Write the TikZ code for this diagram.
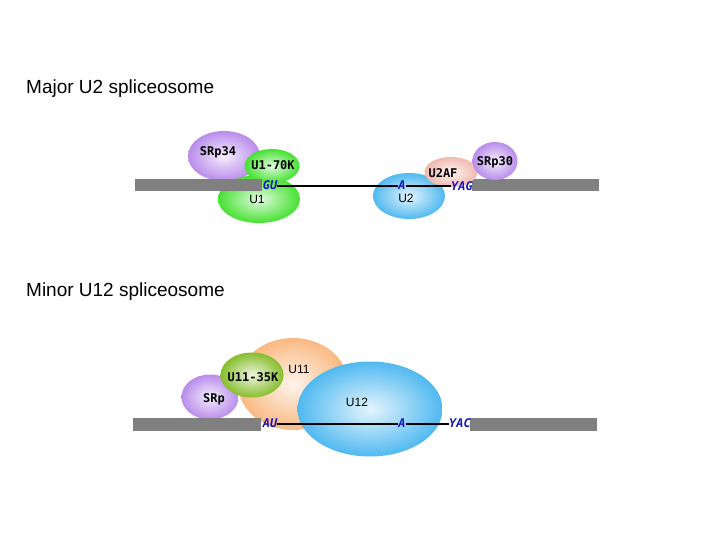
\documentclass[tikz,border=0pt]{standalone}
\usepackage{fontspec}
\setmainfont{Liberation Sans}
\newfontfamily\monof{DejaVu Sans Mono}
\usetikzlibrary{shapes.geometric}
\definecolor{purp}{RGB}{185,140,235}
\definecolor{grn}{RGB}{70,225,50}
\definecolor{blu}{RGB}{80,185,240}
\definecolor{pnk}{RGB}{240,185,175}
\definecolor{org}{RGB}{250,185,130}
\definecolor{olv}{RGB}{135,190,45}
\definecolor{bar}{RGB}{128,128,128}
\definecolor{seq}{RGB}{20,20,190}
\tikzset{
  blob/.style={ellipse, inner sep=0pt, draw=none, inner color=#1!15, outer color=#1},
  lab/.style={font=\monof\bfseries\fontsize{12}{12}\selectfont, inner sep=0pt},
  slab/.style={font=\fontsize{12}{12}\selectfont, inner sep=0pt},
  seqlab/.style={font=\monof\bfseries\itshape\fontsize{12}{12}\selectfont, text=seq, inner sep=0pt},
  title/.style={font=\fontsize{19}{19}\selectfont, anchor=base west, inner sep=0pt},
  rna/.style={fill=bar, draw=none},
  intron/.style={line width=1.5pt, black}
}
\begin{document}
\begin{tikzpicture}[x=1pt,y=-1pt]
\useasboundingbox (0,0) rectangle (720,540);
\fill[white] (0,0) rectangle (720,540);
% ---------- Major ----------
\node[title] (t1) at (26,94) {Major U2 spliceosome};
\node[blob=purp, minimum width=72pt, minimum height=50pt] (srp34) at (224,156) {};
\node[blob=grn, minimum width=82pt, minimum height=48pt] (u1) at (259,199) {};
\node[blob=grn, minimum width=55pt, minimum height=34pt] (u170k) at (272,166) {};
\fill[rna] (135,179) rectangle (262,191.5);
\fill[rna] (472,179) rectangle (599,191.5);
\node[blob=blu, minimum width=72pt, minimum height=46pt] (u2) at (409,196) {};
\node[blob=pnk, minimum width=53pt, minimum height=30pt] (u2af) at (451,172) {};
\node[blob=purp, minimum width=45pt, minimum height=38pt] (srp30) at (495,161) {};
\node[lab] (lsrp34) at (218,152) {SRp34};
\node[lab] (lu170k) at (273,165) {U1-70K};
\node[slab] (lu1) at (257,199) {U1};
\node[slab] (lu2) at (406,198) {U2};
\node[lab] (lu2af) at (443,173) {U2AF};
\node[lab] (lsrp30) at (495,162) {SRp30};
\node[seqlab] (gu) at (270,185) {GU};
\node[seqlab] (a1) at (402,185) {A};
\node[seqlab] (yag) at (462,186) {YAG};
\draw[intron] (gu.east |- 0,186) -- (a1.west |- 0,186);
\draw[intron] (a1.east |- 0,186) -- (yag.west |- 0,186);
% ---------- Minor ----------
\node[title] (t2) at (26,296) {Minor U12 spliceosome};
\node[blob=purp, minimum width=57pt, minimum height=45pt] (srp) at (210,397) {};
\node[blob=org, minimum width=110pt, minimum height=92pt] (u11) at (293,384) {};
\node[blob=olv, minimum width=63pt, minimum height=45pt] (u1135k) at (252,375) {};
\node[blob=blu, minimum width=145pt, minimum height=95pt] (u12) at (370,409) {};
\fill[rna] (133,418) rectangle (261,431);
\fill[rna] (470,418) rectangle (597,431);
\node[lab] (lsrp) at (214,399) {SRp};
\node[lab] (lu1135k) at (253,377) {U11-35K};
\node[slab] (lu11) at (299,369) {U11};
\node[slab] (lu12) at (357,402) {U12};
\node[seqlab] (au) at (270,423) {AU};
\node[seqlab] (a2) at (402,423) {A};
\node[seqlab] (yac) at (460,423) {YAC};
\draw[intron] (au.east |- 0,424) -- (a2.west |- 0,424);
\draw[intron] (a2.east |- 0,424) -- (yac.west |- 0,424);
\end{tikzpicture}
\end{document}
